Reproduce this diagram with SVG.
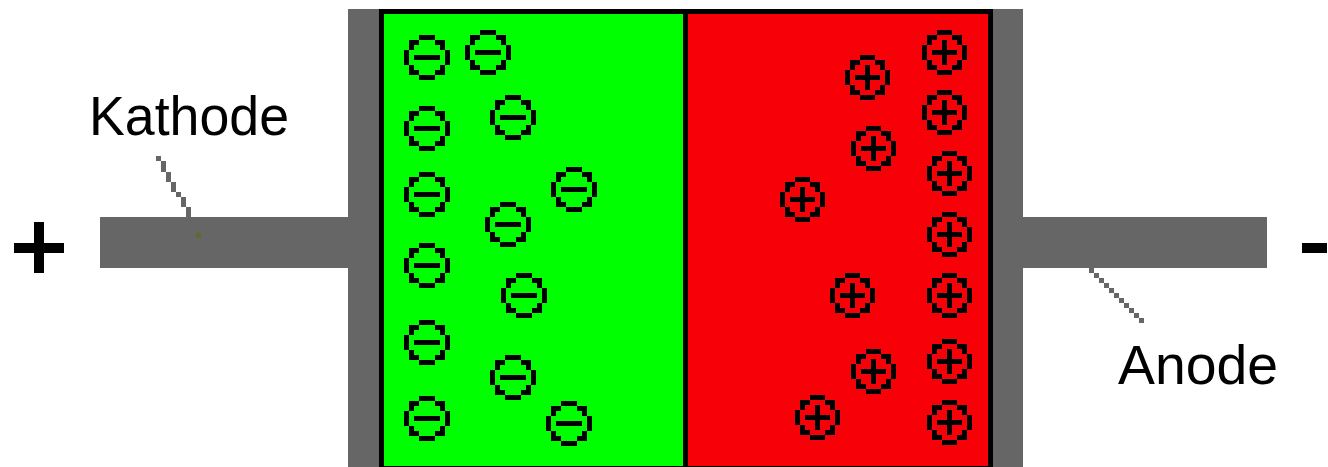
<svg xmlns="http://www.w3.org/2000/svg" xmlns:xlink="http://www.w3.org/1999/xlink" width="1328" height="467" viewBox="0 0 1328 467">
<style>
.metal{fill:#666666}
.ink{fill:#000000}
.label{font-family:"Liberation Sans",Arial,sans-serif;font-size:56px;fill:#000000}
.leader{fill:#666666}
</style>
<defs>
<path id="ring46" d="M15 0h16v5h-16z M5 5h10v5h-10z M5 10h5v5h-5z M31 5h10v5h-10z M36 10h5v5h-5z M0 15h5v15h-5z M41 15h5v15h-5z M5 30h5v5h-5z M5 35h10v5h-10z M36 30h5v5h-5z M31 35h10v5h-10z M15 40h16v5h-16z"/>
<path id="ring45" d="M15 0h15v5h-15z M5 5h10v5h-10z M5 10h5v5h-5z M30 5h10v5h-10z M35 10h5v5h-5z M0 15h5v15h-5z M40 15h5v15h-5z M5 30h5v5h-5z M5 35h10v5h-10z M35 30h5v5h-5z M30 35h10v5h-10z M15 40h15v5h-15z"/>
<g id="minus" shape-rendering="crispEdges">
<use xlink:href="#ring46" href="#ring46" class="ink"/>
<rect x="10" y="20" width="26" height="5" class="ink"/>
</g>
<g id="plus" shape-rendering="crispEdges">
<use xlink:href="#ring45" href="#ring45" class="ink"/>
<rect x="10" y="20" width="25" height="5" class="ink"/>
<rect x="20" y="10" width="5" height="25" class="ink"/>
</g>
</defs>
<rect width="1328" height="467" fill="#ffffff"/>

<g id="lead-kathode" shape-rendering="crispEdges">
<rect x="100" y="217" width="250" height="51" class="metal"/>
<rect x="196" y="233" width="5" height="5" fill="#66662f"/>
</g>
<g id="lead-anode" shape-rendering="crispEdges">
<rect x="1020" y="217" width="247" height="51" class="metal"/>
</g>

<g id="diode-body" shape-rendering="crispEdges">
<rect x="348" y="9" width="31" height="458" class="metal"/>
<rect x="993" y="9" width="30" height="458" class="metal"/>
<rect x="379" y="9" width="614" height="460" class="ink"/>
<g id="n-region">
<rect x="384" y="14" width="299" height="452" fill="#00ff00"/>
</g>
<g id="p-region">
<rect x="688" y="14" width="300" height="452" fill="#f80008"/>
</g>
</g>

<g id="electrons">
<use href="#minus" x="404" y="35"/>
<use href="#minus" x="465" y="30"/>
<use href="#minus" x="404" y="106"/>
<use href="#minus" x="490" y="95"/>
<use href="#minus" x="404" y="172"/>
<use href="#minus" x="551" y="167"/>
<use href="#minus" x="485" y="202"/>
<use href="#minus" x="404" y="243"/>
<use href="#minus" x="501" y="273"/>
<use href="#minus" x="404" y="320"/>
<use href="#minus" x="490" y="355"/>
<use href="#minus" x="404" y="396"/>
<use href="#minus" x="546" y="401"/>
</g>

<g id="holes">
<use href="#plus" x="922" y="30"/>
<use href="#plus" x="845" y="55"/>
<use href="#plus" x="922" y="90"/>
<use href="#plus" x="851" y="126"/>
<use href="#plus" x="927" y="151"/>
<use href="#plus" x="780" y="177"/>
<use href="#plus" x="927" y="212"/>
<use href="#plus" x="830" y="273"/>
<use href="#plus" x="927" y="273"/>
<use href="#plus" x="851" y="349"/>
<use href="#plus" x="927" y="339"/>
<use href="#plus" x="795" y="395"/>
<use href="#plus" x="927" y="400"/>
</g>

<g id="terminal-plus" shape-rendering="crispEdges">
<rect x="14" y="243" width="50" height="10" class="ink"/>
<rect x="34" y="222" width="10" height="51" class="ink"/>
</g>
<g id="terminal-minus" shape-rendering="crispEdges">
<rect x="1302" y="243" width="25" height="10" class="ink"/>
</g>

<g id="label-kathode">
<text x="89" y="135" class="label" textLength="200" lengthAdjust="spacingAndGlyphs">Kathode</text>
</g>
<g id="label-anode">
<text x="1118" y="384" class="label" textLength="160" lengthAdjust="spacingAndGlyphs">Anode</text>
</g>

<g id="connectors" shape-rendering="crispEdges">
<path class="leader" d="M156 156h5v5h-5z M161 161h5v11h-5z M166 172h5v10h-5z M171 182h5v10h-5z M176 192h5v5h-5z M181 197h5v10h-5z M186 207h5v10h-5z"/>
<path class="leader" d="M1089 268h5v5h-5z m5 5h5v5h-5z m5 5h5v5h-5z m5 5h5v5h-5z m5 5h5v5h-5z m5 5h5v5h-5z m5 5h5v5h-5z m5 5h5v5h-5z m5 5h5v5h-5z m5 5h5v5h-5z m5 5h5v5h-5z"/>
</g>
</svg>
